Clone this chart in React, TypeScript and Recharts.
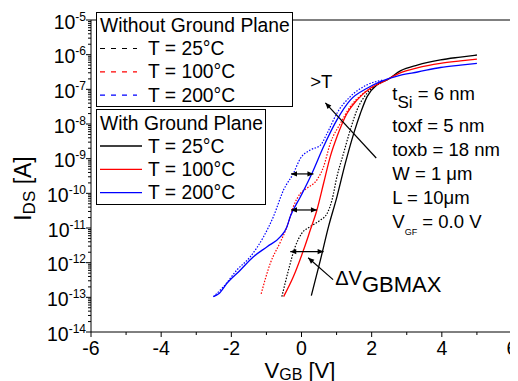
import React from 'react'
import {
  LineChart,
  Line,
  XAxis,
  YAxis,
  ReferenceLine,
  ReferenceDot,
  Legend,
} from 'recharts'

const FONT = '"Liberation Sans", Arial, sans-serif'

// points are [V_GB (V), log10 I_DS (A)]
const noGp25: [number, number][] = [
  [-0.56, -12.98], [-0.37, -12.21], [-0.18, -11.54], [0.01, -11.15], [0.25, -10.96],
  [0.54, -10.77], [0.73, -10.58], [0.87, -10.19], [1.01, -9.52], [1.2, -8.84],
  [1.39, -8.17], [1.58, -7.6], [1.87, -7.11], [2.25, -6.83],
]
const noGp100: [number, number][] = [
  [-1.15, -12.9], [-0.89, -12.02], [-0.6, -11.4], [-0.41, -10.96], [-0.23, -10.38],
  [-0.03, -10.0], [0.16, -9.85], [0.44, -9.61], [0.63, -9.23], [0.82, -8.56],
  [1.11, -7.98], [1.39, -7.5], [1.77, -7.11], [2.25, -6.83],
]
const noGp200: [number, number][] = [
  [-2.51, -12.98], [-2.22, -12.69], [-1.84, -12.21], [-1.46, -11.83], [-1.08, -11.25],
  [-0.8, -10.67], [-0.51, -9.9], [-0.23, -9.42], [-0.03, -8.99], [0.25, -8.75],
  [0.54, -8.61], [0.73, -8.27], [1.01, -7.69], [1.39, -7.21], [1.87, -6.87], [2.33, -6.73],
]
const gp25: [number, number][] = [
  [0.28, -12.95], [0.54, -11.92], [0.77, -10.96], [1.01, -10.1], [1.25, -9.13],
  [1.49, -8.27], [1.68, -7.69], [1.87, -7.21], [2.15, -6.87], [2.44, -6.73],
  [2.83, -6.46], [3.3, -6.3], [3.96, -6.15], [4.53, -6.07], [5.0, -6.01],
]
const gp100: [number, number][] = [
  [-0.51, -12.98], [-0.23, -12.4], [0.06, -11.63], [0.25, -11.06], [0.44, -10.48],
  [0.63, -9.71], [0.82, -8.94], [1.01, -8.37], [1.3, -7.69], [1.58, -7.31],
  [1.96, -6.97], [2.33, -6.78], [2.83, -6.52], [3.3, -6.38], [3.96, -6.25],
  [4.53, -6.18], [5.0, -6.13],
]
const gp200: [number, number][] = [
  [-2.51, -12.98], [-2.36, -12.9], [-2.12, -12.59], [-1.74, -12.21], [-1.37, -11.83],
  [-0.98, -11.54], [-0.6, -11.25], [-0.42, -10.98], [-0.32, -10.67], [-0.03, -10.1],
  [0.3, -9.42], [0.63, -8.65], [1.01, -7.88], [1.39, -7.31], [1.87, -6.97],
  [2.25, -6.78], [2.83, -6.59], [3.31, -6.5], [3.96, -6.37], [4.53, -6.3], [5.0, -6.25],
]

const tempNames = ['T = 25°C', 'T = 100°C', 'T = 200°C']
const colors = ['#000000', '#ff0000', '#0000ff']
const withoutGp = [noGp25, noGp100, noGp200]
const withGp = [gp25, gp100, gp200]

const xTicks = [-6, -5, -4, -3, -2, -1, 0, 1, 2, 3, 4, 5, 6]
const decades = [-14, -13, -12, -11, -10, -9, -8, -7, -6, -5]
const yTicks = decades.flatMap((d) =>
  d === -5 ? [10 ** d] : [1, 2, 3, 4, 5, 6, 7, 8, 9].map((m) => m * 10 ** d)
)

// annotations: [log10 I, V from, V to] for the delta-V arrows
const shiftArrows: [number, number, number][] = [
  [-9.44, -0.3, 0.34],
  [-10.48, -0.3, 0.44],
  [-11.68, -0.32, 0.63],
]
const tempArrow: [number, number][] = [[2.13, -8.98], [0.68, -7.39]]
const dvArrow: [number, number][] = [[0.9, -12.49], [0.19, -11.86]]
const tempLabel: [number, number] = [0.25, -6.96]
const dvLabel: [number, number] = [0.96, -12.64]
const paramAnchor: [number, number] = [2.59, -7.31]
const paramLines = ['toxf = 5 nm', 'toxb = 18 nm', 'W = 1 \u03bcm', 'L = 10\u03bcm']

const toRows = (pts: [number, number][]) => pts.map(([v, e]) => ({ v, i: 10 ** e }))

const isMajorY = (v: number) => {
  const e = Math.log10(v)
  return Math.abs(e - Math.round(e)) < 1e-6
}

function LeftTick({ x, y, payload }: any) {
  const major = isMajorY(payload.value)
  const e = Math.round(Math.log10(payload.value))
  return (
    <g>
      <line x1={x - (major ? 5 : 3)} x2={x} y1={y} y2={y} stroke="#000" />
      {major && (
        <text x={x - 5} y={y + 8.5} textAnchor="end" fontFamily={FONT} fontSize={19.5} fill="#000">
          10<tspan dy={-8} fontSize={12}>{`${e}`}</tspan>
        </text>
      )}
    </g>
  )
}

function RightTick({ x, y, payload }: any) {
  const major = isMajorY(payload.value)
  return <line x1={x} x2={x + (major ? 5 : 3)} y1={y} y2={y} stroke="#000" />
}

function BottomTick({ x, y, payload }: any) {
  const major = payload.value % 2 === 0
  return (
    <g>
      <line x1={x} x2={x} y1={y} y2={y + (major ? 5 : 3)} stroke="#000" />
      {major && (
        <text x={x} y={y + 22.5} textAnchor="middle" fontFamily={FONT} fontSize={19.5} fill="#000">
          {`${payload.value}`}
        </text>
      )}
    </g>
  )
}

function TopTick({ x, y, payload }: any) {
  const major = payload.value % 2 === 0
  return <line x1={x} x2={x} y1={y} y2={y - (major ? 5 : 4)} stroke="#000" />
}

function YTitle() {
  const cx = 23
  const cy = 180.5
  return (
    <text x={cx} y={cy} transform={`rotate(-90 ${cx} ${cy})`} textAnchor="middle" fontFamily={FONT} fontSize={23} fill="#000">
      I<tspan dy={4} fontSize={17}>DS</tspan>
      <tspan dy={-4}> [A]</tspan>
    </text>
  )
}

function XTitle() {
  return (
    <text x={292} y={369.5} textAnchor="middle" fontFamily={FONT} fontSize={22} fill="#000">
      V<tspan dy={2} fontSize={16}>GB</tspan>
      <tspan dy={-2}> [V]</tspan>
    </text>
  )
}

function head(x: number, y: number, ang: number) {
  const len = 6
  const half = 2.6
  const bx = x - len * Math.cos(ang)
  const by = y - len * Math.sin(ang)
  const px = -Math.sin(ang) * half
  const py = Math.cos(ang) * half
  return <polygon points={`${x},${y} ${bx + px},${by + py} ${bx - px},${by - py}`} fill="#000" />
}

const arrow = (both: boolean) => (p: any) => {
  const { x1, y1, x2, y2 } = p
  const ang = Math.atan2(y2 - y1, x2 - x1)
  return (
    <g>
      <line x1={x1} y1={y1} x2={x2} y2={y2} stroke="#000" strokeWidth={1.2} />
      {head(x2, y2, ang)}
      {both && head(x1, y1, ang + Math.PI)}
    </g>
  )
}

function LegendBoxes() {
  return (
    <svg width={198} height={194} style={{ display: 'block', overflow: 'visible' }}>
      <g fontFamily={FONT} fontSize={19.3} fill="#000">
        <rect x={0.5} y={0.5} width={196} height={94} fill="#fff" stroke="#000" />
        <text x={4} y={19.7}>Without Ground Plane</text>
        {tempNames.map((n, k) => (
          <g key={n}>
            <line x1={4} x2={41} y1={36.5 + 23.3 * k} y2={36.5 + 23.3 * k} stroke={colors[k]} strokeWidth={1.2} strokeDasharray="5 6" />
            <text x={52} y={43 + 23.3 * k}>{n}</text>
          </g>
        ))}
        <rect x={0.5} y={97.5} width={169} height={95} fill="#fff" stroke="#000" />
        <text x={4} y={118}>With Ground Plane</text>
        {tempNames.map((n, k) => (
          <g key={n}>
            <line x1={4} x2={46} y1={134 + 23.3 * k} y2={134 + 23.3 * k} stroke={colors[k]} strokeWidth={1.3} />
            <text x={52} y={140.7 + 23.3 * k}>{n}</text>
          </g>
        ))}
      </g>
    </svg>
  )
}

export default function App() {
  return (
    <LineChart width={510} height={373} margin={{ top: 0, right: 0, bottom: 0, left: 0 }}>
      <XAxis
        dataKey="v"
        type="number"
        domain={[-6, 6]}
        ticks={xTicks}
        interval={0}
        tickSize={0}
        tickMargin={0}
        tickLine={false}
        tick={<BottomTick />}
        height={49}
        axisLine={{ stroke: '#000' }}
        label={<XTitle />}
      />
      <XAxis
        xAxisId="top"
        orientation="top"
        type="number"
        domain={[-6, 6]}
        ticks={xTicks}
        interval={0}
        tickSize={0}
        tickMargin={0}
        tickLine={false}
        tick={<TopTick />}
        height={12}
        axisLine={{ stroke: '#000' }}
      />
      <YAxis
        type="number"
        scale="log"
        domain={[1e-14, 1e-5]}
        allowDataOverflow
        ticks={yTicks}
        interval={0}
        tickSize={0}
        tickMargin={0}
        tickLine={false}
        tick={<LeftTick />}
        width={83}
        axisLine={{ stroke: '#000' }}
        label={<YTitle />}
      />
      <YAxis
        yAxisId="right"
        orientation="right"
        type="number"
        scale="log"
        domain={[1e-14, 1e-5]}
        allowDataOverflow
        ticks={yTicks}
        interval={0}
        tickSize={0}
        tickMargin={0}
        tickLine={false}
        tick={<RightTick />}
        width={6}
        axisLine={{ stroke: '#000' }}
      />
      <Legend
        content={<LegendBoxes />}
        layout="horizontal"
        align="center"
        verticalAlign="middle"
        wrapperStyle={{ position: 'absolute', left: 88, top: 4, width: 198, height: 194, margin: 0, padding: 0 }}
      />
      {withoutGp.map((pts, k) => (
        <Line
          key={`n${k}`}
          data={toRows(pts)}
          dataKey="i"
          name={tempNames[k]}
          type="monotone"
          stroke={colors[k]}
          strokeWidth={1.2}
          strokeDasharray="1.5 1.5"
          dot={false}
          activeDot={false}
          isAnimationActive={false}
        />
      ))}
      {withGp.map((pts, k) => (
        <Line
          key={`g${k}`}
          data={toRows(pts)}
          dataKey="i"
          name={tempNames[k]}
          type="monotone"
          stroke={colors[k]}
          strokeWidth={1.3}
          dot={false}
          activeDot={false}
          isAnimationActive={false}
        />
      ))}
      {shiftArrows.map(([e, a, b]) => (
        <ReferenceLine
          key={e}
          segment={[{ x: a, y: 10 ** e }, { x: b, y: 10 ** e }]}
          ifOverflow="visible"
          shape={arrow(true)}
        />
      ))}
      <ReferenceLine
        segment={tempArrow.map(([v, e]) => ({ x: v, y: 10 ** e }))}
        ifOverflow="visible"
        shape={arrow(false)}
      />
      <ReferenceLine
        segment={dvArrow.map(([v, e]) => ({ x: v, y: 10 ** e }))}
        ifOverflow="visible"
        shape={arrow(false)}
      />
      <ReferenceDot
        x={tempLabel[0]}
        y={10 ** tempLabel[1]}
        r={0}
        ifOverflow="visible"
        shape={(p: any) => (
          <text x={p.cx} y={p.cy} fontFamily={FONT} fontSize={18.5} fill="#000">&gt;T</text>
        )}
      />
      <ReferenceDot
        x={dvLabel[0]}
        y={10 ** dvLabel[1]}
        r={0}
        ifOverflow="visible"
        shape={(p: any) => (
          <text x={p.cx} y={p.cy} fontFamily={FONT} fontSize={20} fill="#000">
            {'\u0394V'}
            <tspan dy={7} fontSize={22}>GBMAX</tspan>
          </text>
        )}
      />
      <ReferenceDot
        x={paramAnchor[0]}
        y={10 ** paramAnchor[1]}
        r={0}
        ifOverflow="visible"
        shape={(p: any) => (
          <g fontFamily={FONT} fontSize={18.5} fill="#000">
            <text x={p.cx} y={p.cy}>
              t<tspan dy={8} fontSize={17}>Si</tspan>
              <tspan dy={-8}> = 6 nm</tspan>
            </text>
            {paramLines.map((s, k) => (
              <text key={s} x={p.cx} y={p.cy + 31.5 + 24.2 * k}>{s}</text>
            ))}
            <text x={p.cx} y={p.cy + 128.3}>
              V<tspan dy={7} fontSize={9}>GF</tspan>
              <tspan dy={-7}> = 0.0 V</tspan>
            </text>
          </g>
        )}
      />
    </LineChart>
  )
}
